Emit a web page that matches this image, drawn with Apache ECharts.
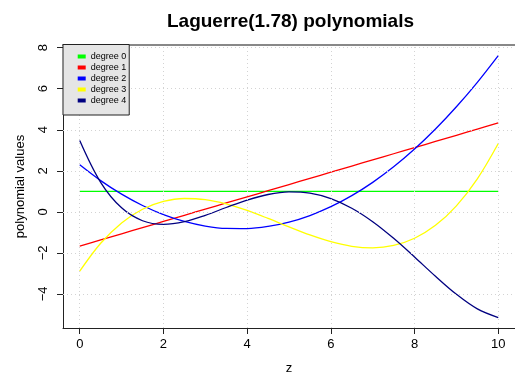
<!DOCTYPE html>
<html>
<head>
<meta charset="utf-8">
<script src="https://cdn.jsdelivr.net/npm/echarts@6/dist/echarts.min.js"></script>
<style>
  html, body { margin: 0; padding: 0; background: #ffffff; }
  #chart { width: 515px; height: 380px; }
</style>
</head>
<body>
<div id="chart"></div>
<script>
// Values (z from 0 to 10 in steps of 0.5)
var zValues = [0, 0.5, 1, 1.5, 2, 2.5, 3, 3.5, 4, 4.5, 5, 5.5, 6, 6.5, 7, 7.5, 8, 8.5, 9, 9.5, 10];
var degree0 = [1, 1, 1, 1, 1, 1, 1, 1, 1, 1, 1, 1, 1, 1, 1, 1, 1, 1, 1, 1, 1];
var degree1 = [-1.6673, -1.3675, -1.0676, -0.7677, -0.4678, -0.1679, 0.1319, 0.4318, 0.7317, 1.0316, 1.3315, 1.6313, 1.9312, 2.2311, 2.5310, 2.8309, 3.1307, 3.4306, 3.7305, 4.0304, 4.3303];
var degree2 = [2.2922, 1.5222, 0.8613, 0.3094, -0.1334, -0.4671, -0.6918, -0.8074, -0.8140, -0.7115, -0.4999, -0.1792, 0.2505, 0.7893, 1.4371, 2.1940, 3.0600, 4.0351, 5.1192, 6.3124, 7.6146];
var degree3 = [-2.8934, -1.5315, -0.5394, 0.1260, 0.5081, 0.6499, 0.5948, 0.3858, 0.0663, -0.3207, -0.7318, -1.1239, -1.4538, -1.6784, -1.7542, -1.6383, -1.2874, -0.6582, 0.2924, 1.6077, 3.3307];
var degree4 = [3.4781, 1.4385, 0.1945, -0.4345, -0.6113, -0.4809, -0.1701, 0.2122, 0.5752, 0.8457, 0.9690, 0.9078, 0.6433, 0.1743, -0.4824, -1.2918, -2.2011, -3.1395, -4.0183, -4.7306, -5.1519];

var seriesNames = ['degree 0', 'degree 1', 'degree 2', 'degree 3', 'degree 4'];
var seriesColors = ['#00ff00', '#ff0000', '#0000ff', '#ffff00', '#000080'];
var seriesValues = [degree0, degree1, degree2, degree3, degree4];

var xTicks = [0, 2, 4, 6, 8, 10];
var yTicks = [-4, -2, 0, 2, 4, 6, 8];

var titleText = 'Laguerre(1.78) polynomials';
var xTitle = 'z';
var yTitle = 'polynomial values';

var FONT = '"Liberation Sans", Arial, Helvetica, sans-serif';

function pairs(ys) {
  return zValues.map(function (z, i) { return [z, ys[i]]; });
}

var gridStyle = { color: '#d3d3d3', type: [1, 3], width: 1 };

// helper series carrying the dotted grid lines at the tick values
var gridSeries = {
  name: 'grid',
  type: 'line',
  data: [],
  silent: true,
  animation: false,
  z: 1,
  markLine: {
    silent: true,
    symbol: ['none', 'none'],
    label: { show: false },
    emphasis: { disabled: true },
    lineStyle: gridStyle,
    animation: false,
    data: xTicks.map(function (v) { return { xAxis: v }; })
      .concat(yTicks.map(function (v) { return { yAxis: v }; }))
  }
};

var series = [gridSeries].concat(seriesValues.map(function (vals, i) {
  return {
    name: seriesNames[i],
    type: 'line',
    data: pairs(vals),
    smooth: 0.35,
    showSymbol: false,
    symbol: 'none',
    color: seriesColors[i],
    lineStyle: { color: seriesColors[i], width: 1.3 },
    itemStyle: { color: seriesColors[i] },
    animation: false,
    silent: true,
    z: 2
  };
}));

var chart = echarts.init(document.getElementById('chart'), null, { renderer: 'canvas' });
chart.setOption({
  backgroundColor: '#ffffff',
  animation: false,
  textStyle: { fontFamily: FONT },
  title: {
    text: titleText,
    left: 290.5,
    textAlign: 'center',
    top: 12,
    padding: 0,
    textStyle: { fontFamily: FONT, fontSize: 19, fontWeight: 'bold', color: '#000000' }
  },
  legend: {
    data: seriesNames.map(function (n) { return { name: n, icon: 'rect' }; }),
    orient: 'vertical',
    left: 63,
    top: 44.5,
    itemWidth: 8,
    itemHeight: 4,
    itemGap: 0,
    padding: [6.5, 3, 9, 14.7],
    backgroundColor: '#e5e5e5',
    borderColor: '#222222',
    borderWidth: 1,
    borderRadius: 0,
    selectedMode: false,
    z: 10,
    textStyle: { fontFamily: FONT, fontSize: 9, color: '#000000', lineHeight: 11, height: 11 }
  },
  grid: { left: 63, top: 45, width: 455, height: 286.5, containLabel: false },
  xAxis: [{
    type: 'value',
    min: -0.4,
    max: 10.4,
    position: 'bottom',
    name: xTitle,
    nameLocation: 'middle',
    nameGap: 34,
    nameTextStyle: { fontFamily: FONT, fontSize: 13, color: '#000000' },
    axisLine: { show: true, onZero: false, lineStyle: { color: '#222222', width: 1 } },
    axisTick: { show: true, customValues: xTicks, length: 6, lineStyle: { color: '#222222', width: 1 } },
    axisLabel: { show: true, customValues: xTicks, margin: 10, fontFamily: FONT, fontSize: 13, color: '#000000' },
    splitLine: { show: false }
  }, {
    type: 'value',
    min: -0.4,
    max: 10.4,
    position: 'top',
    axisLine: { show: true, onZero: false, lineStyle: { color: '#888888', width: 2 } },
    axisTick: { show: false },
    axisLabel: { show: false },
    splitLine: { show: false }
  }],
  yAxis: {
    type: 'value',
    min: -5.66,
    max: 8.13,
    position: 'left',
    name: yTitle,
    nameLocation: 'middle',
    nameGap: 36,
    nameRotate: 90,
    nameTextStyle: { fontFamily: FONT, fontSize: 13, color: '#000000' },
    axisLine: { show: true, onZero: false, lineStyle: { color: '#222222', width: 1 } },
    axisTick: { show: true, customValues: yTicks, length: 6, lineStyle: { color: '#222222', width: 1 } },
    axisLabel: {
      show: true, customValues: yTicks, rotate: 90, margin: 13,
      fontFamily: FONT, fontSize: 13, color: '#000000',
      formatter: function (v) { return String(v).replace('-', '\u2212'); }
    },
    splitLine: { show: false }
  },
  series: series
});
</script>
</body>
</html>
